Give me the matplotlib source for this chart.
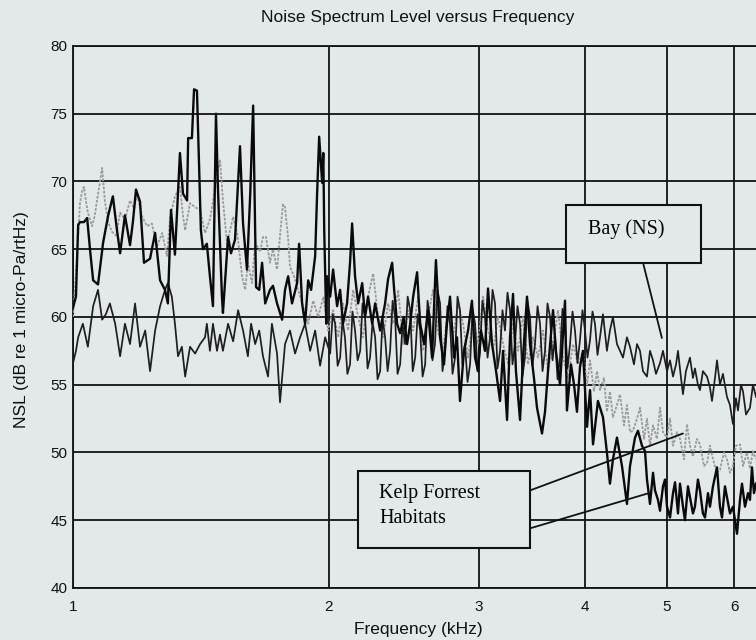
import matplotlib
matplotlib.use("Agg")
import matplotlib.pyplot as plt
from matplotlib.patches import Rectangle
from matplotlib.ticker import FixedLocator, FixedFormatter, NullLocator

BG = "#e3e9eb"

# Kelp forest habitat 1 (black, strong low-frequency peaks)
KELP1_FREQ = [
    1.000, 1.008, 1.014, 1.019, 1.030, 1.039, 1.047, 1.056, 1.070, 1.085,
    1.100, 1.114, 1.126, 1.136, 1.151, 1.167, 1.176, 1.186, 1.199, 1.212,
    1.232, 1.249, 1.266, 1.283, 1.293, 1.304, 1.318, 1.336, 1.347, 1.362,
    1.366, 1.380, 1.388, 1.399, 1.414, 1.422, 1.437, 1.449, 1.461, 1.473,
    1.481, 1.497, 1.501, 1.522, 1.534, 1.551, 1.572, 1.585, 1.602, 1.616,
    1.629, 1.638, 1.642, 1.656, 1.669, 1.683, 1.705, 1.719, 1.738, 1.762,
    1.776, 1.791, 1.810, 1.835, 1.845, 1.860, 1.875, 1.891, 1.906, 1.927,
    1.937, 1.948, 1.964, 1.970, 1.975, 1.986, 1.991, 2.007, 2.023, 2.045,
    2.062, 2.078, 2.101, 2.118, 2.130, 2.147, 2.165, 2.189, 2.206, 2.224,
    2.249, 2.267, 2.298, 2.329, 2.348, 2.374, 2.387, 2.406, 2.426, 2.450,
    2.472, 2.493, 2.513, 2.540, 2.561, 2.589, 2.616, 2.645, 2.673, 2.703,
    2.732, 2.754, 2.777, 2.807, 2.830, 2.853, 2.884, 2.916, 2.947, 2.972,
    2.996, 3.020, 3.053, 3.078, 3.112, 3.146, 3.180, 3.206, 3.241, 3.267,
    3.294, 3.320, 3.357, 3.384, 3.421, 3.449, 3.486, 3.515, 3.563, 3.592,
    3.631, 3.671, 3.700, 3.741, 3.792, 3.812, 3.854, 3.886, 3.917, 3.949,
    3.981, 4.025, 4.058, 4.091, 4.146, 4.203, 4.248, 4.283, 4.318, 4.365,
    4.425, 4.485, 4.522, 4.584, 4.621, 4.671, 4.710, 4.735, 4.774, 4.813,
    4.839, 4.878, 4.905, 4.945, 4.972, 4.999, 5.040, 5.081, 5.109, 5.150,
    5.178, 5.220, 5.248, 5.291, 5.320, 5.363, 5.392, 5.436, 5.466, 5.510,
    5.541, 5.586, 5.616, 5.662, 5.724, 5.770, 5.802, 5.849, 5.881, 5.929,
    5.977, 6.010, 6.043, 6.092, 6.125, 6.175, 6.226, 6.259, 6.293, 6.327,
    6.362,
]
KELP1_NSL = [
    60.7, 61.5, 66.8, 67.0, 67.0, 67.3, 65.0, 62.7, 62.4, 65.5,
    67.5, 68.9, 66.5, 64.7, 67.5, 65.3, 67.0, 69.4, 68.5, 64.0,
    64.3, 66.2, 62.7, 62.0, 61.0, 67.9, 64.6, 72.1, 69.1, 68.6,
    73.2, 73.2, 76.8, 76.7, 66.4, 65.0, 65.4, 63.0, 60.8, 75.0,
    69.4, 61.5, 60.3, 65.9, 64.7, 65.7, 72.6, 66.9, 63.5, 69.0,
    75.6, 66.4, 62.2, 62.0, 64.0, 61.0, 62.0, 62.3, 61.0, 59.8,
    62.0, 63.0, 61.0, 62.5, 65.4, 61.0, 59.5, 62.7, 62.0, 64.5,
    69.0, 73.3, 69.9, 72.1, 66.4, 59.5, 63.0, 61.5, 63.5, 60.8,
    62.0, 59.5, 61.0, 64.0, 66.9, 63.0, 61.0, 62.5, 60.0, 61.5,
    59.5, 61.0, 59.0, 61.0, 62.8, 64.0, 62.0, 59.5, 58.8, 60.0,
    58.0, 59.5, 61.5, 63.3, 59.5, 58.0, 60.5, 57.0, 64.2, 58.5,
    56.5, 59.5, 61.5, 57.0, 58.5, 53.8, 57.5, 59.0, 61.2, 57.0,
    56.0, 59.0, 57.5, 62.1, 58.0, 56.0, 53.8, 57.5, 52.4, 58.5,
    61.7, 56.0, 52.4, 57.0, 61.5, 58.0, 55.5, 53.3, 51.4, 53.0,
    57.0, 60.5, 57.5, 55.0, 61.2, 53.1, 56.5, 55.0, 53.0, 56.3,
    57.5, 51.9, 54.6, 50.6, 53.8, 52.6, 50.0, 47.7, 49.5, 51.1,
    49.0, 46.2, 49.0, 51.1, 51.6, 50.5, 50.1, 48.0, 46.2, 48.5,
    47.2, 46.5, 45.7, 47.5, 48.0, 46.0, 45.2, 47.0, 47.8, 45.5,
    47.7, 46.0, 45.0, 47.5, 46.7, 45.5, 46.0, 48.0, 47.2, 45.5,
    45.2, 47.0, 46.0, 47.5, 48.9, 46.0, 45.2, 47.5, 46.7, 45.5,
    46.0, 45.0, 44.0, 46.5, 47.7, 46.0, 47.0, 46.5, 48.9, 47.0,
    47.7,
]

# Kelp forest habitat 2 (grey)
KELP2_FREQ = [
    1.000, 1.005, 1.014, 1.019, 1.025, 1.030, 1.036, 1.041, 1.053, 1.061,
    1.067, 1.076, 1.082, 1.090, 1.100, 1.111, 1.124, 1.136, 1.151, 1.167,
    1.180, 1.189, 1.206, 1.222, 1.238, 1.255, 1.273, 1.290, 1.301, 1.318,
    1.336, 1.347, 1.355, 1.373, 1.392, 1.411, 1.430, 1.449, 1.461, 1.477,
    1.489, 1.501, 1.518, 1.530, 1.543, 1.560, 1.581, 1.594, 1.606, 1.624,
    1.638, 1.660, 1.673, 1.687, 1.705, 1.719, 1.738, 1.752, 1.766, 1.776,
    1.791, 1.800, 1.820, 1.840, 1.865, 1.891, 1.917, 1.943, 1.970, 1.996,
    2.023, 2.051, 2.078, 2.107, 2.136, 2.165, 2.194, 2.224, 2.255, 2.286,
    2.317, 2.348, 2.380, 2.413, 2.446, 2.479, 2.513, 2.547, 2.582, 2.616,
    2.652, 2.688, 2.725, 2.762, 2.800, 2.838, 2.877, 2.916, 2.955, 2.996,
    3.037, 3.078, 3.120, 3.163, 3.206, 3.250, 3.294, 3.339, 3.384, 3.430,
    3.477, 3.524, 3.573, 3.621, 3.671, 3.721, 3.772, 3.823, 3.875, 3.928,
    3.981, 4.025, 4.058, 4.102, 4.135, 4.169, 4.214, 4.248, 4.283, 4.318,
    4.365, 4.401, 4.449, 4.485, 4.522, 4.559, 4.609, 4.646, 4.697, 4.735,
    4.774, 4.813, 4.865, 4.905, 4.945, 4.999, 5.040, 5.081, 5.136, 5.178,
    5.234, 5.277, 5.320, 5.363, 5.421, 5.466, 5.525, 5.571, 5.616, 5.662,
    5.724, 5.770, 5.833, 5.881, 5.929, 5.977, 6.026, 6.092, 6.142, 6.209,
    6.259, 6.310, 6.362,
]
KELP2_NSL = [
    60.0, 62.0, 66.0, 68.4, 69.3, 69.6, 68.5, 67.7, 66.7, 67.5,
    68.6, 70.0, 71.0, 68.6, 67.0, 66.3, 66.0, 67.7, 67.2, 68.6,
    68.0, 69.1, 67.4, 66.7, 66.9, 65.2, 66.2, 64.5, 67.4, 68.9,
    69.6, 67.5, 66.4, 68.4, 68.1, 67.9, 66.2, 67.2, 68.5, 70.4,
    71.6, 68.6, 65.4, 66.4, 67.4, 66.2, 63.0, 62.0, 64.0, 62.5,
    65.5, 64.8, 65.9, 65.9, 64.0, 65.0, 63.5, 66.0, 68.3, 68.1,
    65.8, 63.7, 63.0, 62.0, 60.8, 59.5, 61.2, 60.0, 61.5, 59.0,
    60.5, 58.5, 61.0, 59.0, 62.0, 60.0, 58.5, 61.5, 63.2, 60.0,
    58.5, 61.0, 59.5, 62.0, 58.0, 60.5, 59.0, 61.5, 57.5, 60.0,
    62.0, 59.0, 57.5, 60.5, 58.5, 61.0, 59.5, 57.0, 60.0, 58.0,
    61.5, 59.0, 57.5, 60.0, 58.0, 56.5, 59.5, 57.5, 60.0, 56.5,
    58.5, 57.0, 59.0, 56.0, 58.0, 60.5, 57.0, 55.5, 58.0, 56.5,
    57.5, 55.0, 56.8, 54.5, 56.0, 54.6, 55.5, 53.0, 54.5, 52.6,
    53.5, 54.3, 52.0, 53.5, 51.5, 51.6, 52.5, 53.3, 51.0, 52.5,
    50.5, 52.0, 51.0, 53.3, 51.5, 51.1, 52.5, 50.5, 51.5, 51.0,
    49.5, 52.1, 50.5, 49.7, 51.0, 50.6, 49.0, 49.2, 50.5, 49.5,
    48.5, 48.7, 50.0, 49.5, 48.5, 49.0, 50.5, 50.6, 49.0, 50.0,
    48.8, 50.1, 49.5,
]

# Bay (NS)
BAY_FREQ = [
    1.000, 1.008, 1.014, 1.027, 1.041, 1.056, 1.070, 1.082, 1.093, 1.105,
    1.121, 1.136, 1.151, 1.167, 1.183, 1.199, 1.216, 1.232, 1.249, 1.266,
    1.283, 1.293, 1.307, 1.318, 1.329, 1.343, 1.355, 1.373, 1.392, 1.411,
    1.430, 1.437, 1.449, 1.461, 1.477, 1.489, 1.501, 1.522, 1.543, 1.564,
    1.585, 1.606, 1.620, 1.638, 1.656, 1.673, 1.696, 1.714, 1.738, 1.752,
    1.776, 1.800, 1.825, 1.850, 1.875, 1.901, 1.927, 1.953, 1.980,
    2.007, 2.021, 2.034, 2.048, 2.062, 2.075, 2.089, 2.103, 2.118, 2.132,
    2.147, 2.162, 2.177, 2.191, 2.206, 2.221, 2.236, 2.251, 2.267, 2.282,
    2.298, 2.313, 2.329, 2.345, 2.361, 2.377, 2.393, 2.409, 2.426, 2.442,
    2.459, 2.476, 2.493, 2.510, 2.527, 2.544, 2.561, 2.578, 2.596, 2.613,
    2.630, 2.648, 2.666, 2.684, 2.703, 2.721, 2.739, 2.758, 2.777, 2.796,
    2.815, 2.834, 2.853, 2.872, 2.892, 2.912, 2.932, 2.952, 2.972, 2.992,
    3.012, 3.032, 3.053, 3.074, 3.095, 3.116, 3.137, 3.158, 3.180, 3.201,
    3.223, 3.245, 3.267, 3.289, 3.311, 3.334, 3.357, 3.379, 3.402, 3.425,
    3.449, 3.472, 3.496, 3.520, 3.544, 3.568, 3.592, 3.616, 3.641, 3.666,
    3.691, 3.716, 3.741, 3.766, 3.792, 3.818, 3.844, 3.870, 3.896, 3.922,
    3.949, 3.976, 4.003, 4.030, 4.058, 4.085, 4.113, 4.141, 4.169,
    4.203, 4.248, 4.283, 4.318, 4.365, 4.401,
    4.437, 4.485, 4.522, 4.571, 4.609, 4.646, 4.684, 4.735, 4.774, 4.813,
    4.852, 4.905, 4.945, 4.999, 5.040, 5.081, 5.123, 5.150, 5.192, 5.220,
    5.262, 5.320, 5.363, 5.392, 5.436, 5.466, 5.510, 5.571, 5.616, 5.647,
    5.693, 5.724, 5.770, 5.817, 5.881, 5.929, 5.977, 6.026, 6.059, 6.109,
    6.142, 6.192, 6.259, 6.310, 6.362,
]
BAY_NSL = [
    56.6, 57.5, 58.5, 59.5, 57.8, 60.8, 62.0, 59.8, 60.2, 61.0,
    59.5, 57.1, 59.5, 58.0, 61.0, 57.8, 59.0, 56.0, 59.0, 60.8,
    62.0, 62.5, 61.5, 59.5, 57.1, 57.8, 55.6, 57.8, 57.3, 58.0,
    58.5, 59.5, 57.5, 59.5, 57.5, 58.7, 57.5, 59.5, 58.2, 60.5,
    59.0, 57.1, 59.5, 58.0, 59.0, 57.1, 55.6, 59.5, 57.3, 53.7,
    58.0, 59.0, 57.3, 58.5, 59.5, 57.5, 59.0, 56.4, 58.5,
    57.3, 60.2, 59.5, 56.4, 57.0, 59.8, 58.5, 55.8, 56.5, 60.4,
    59.0, 56.8, 57.5, 61.0, 60.0, 56.2, 57.0, 59.6, 58.5, 55.4,
    56.0, 59.9, 58.5, 56.0, 57.5, 61.2, 60.0, 55.8, 56.5, 59.5,
    58.0, 61.5, 60.5, 56.0, 57.0, 60.2, 59.0, 55.6, 56.5, 61.2,
    60.0, 56.8, 58.0, 62.0, 61.0, 56.0, 57.5, 60.8, 59.5, 55.8,
    57.0, 61.5, 60.5, 56.5, 58.0, 55.2, 56.5, 60.6, 59.5, 56.0,
    57.5, 61.2, 60.0, 57.0, 58.5, 62.0, 61.0, 56.2, 57.5, 60.5,
    59.0, 61.8, 60.5, 56.5, 58.0, 60.8, 59.5, 55.6, 57.0, 61.2,
    60.0, 56.4, 58.0, 60.8, 59.5, 56.0, 57.5, 61.0, 60.0, 56.8,
    58.5, 55.4, 57.0, 60.6, 59.5, 56.2, 58.0, 60.4, 59.0, 56.6,
    58.3, 60.5, 59.0, 57.0, 58.3, 60.4, 59.5, 57.2, 58.5,
    60.2, 57.5, 59.0, 60.0, 58.0, 57.5,
    57.0, 58.5, 57.8, 56.5, 58.0, 57.5, 56.0, 55.6, 57.5, 56.8,
    55.8, 56.6, 57.5, 56.0, 56.8, 55.6, 56.5, 57.5, 55.5, 54.3,
    56.0, 57.0, 55.5, 56.2, 55.0, 54.6, 56.0, 55.6, 54.8, 53.8,
    55.5, 56.8, 55.0, 55.8, 54.1, 53.5, 52.1, 54.0, 53.1, 55.0,
    54.5, 52.8, 53.3, 55.0, 54.1,
]

X_TICKS = [1, 2, 3, 4, 5, 6]
X_TICK_LABELS = ["1", "2", "3", "4", "5", "6"]
Y_TICKS = [40, 45, 50, 55, 60, 65, 70, 75, 80]

plt.rcParams["font.family"] = ["Liberation Sans", "DejaVu Sans"]

fig = plt.figure(figsize=(7.56, 6.4), dpi=100, facecolor=BG)
ax = fig.add_axes([0.0966, 0.0813, 0.9034, 0.8469], facecolor=BG)

ax.plot(KELP2_FREQ, KELP2_NSL, color="#9a9a9a", lw=1.3, ls=(0, (1.5, 0.8)), zorder=3)
ax.plot(BAY_FREQ, BAY_NSL, color="#1e1e1e", lw=1.25, zorder=4)
ax.plot(KELP1_FREQ, KELP1_NSL, color="#0a0a0a", lw=1.7, zorder=5)

ax.set_xscale("log")
ax.set_xlim(1, 6.362)
ax.set_ylim(40, 80)
ax.xaxis.set_major_locator(FixedLocator(X_TICKS))
ax.xaxis.set_major_formatter(FixedFormatter(X_TICK_LABELS))
ax.xaxis.set_minor_locator(NullLocator())
ax.set_yticks(Y_TICKS)
ax.tick_params(length=0, labelsize=11, colors="#111111")
ax.tick_params(axis="x", pad=9)
ax.tick_params(axis="y", pad=4)
ax.grid(True, color="#111111", lw=1.3)
ax.set_axisbelow(True)
for side in ("left", "bottom", "top"):
    ax.spines[side].set_color("#111111")
    ax.spines[side].set_linewidth(1.3)
ax.spines["right"].set_visible(False)

fig.text(0.553, 0.973, "Noise Spectrum Level versus Frequency", ha="center", va="center",
         fontsize=12.5, color="#111111")
fig.text(0.553, 0.016, "Frequency (kHz)", ha="center", va="center", fontsize=12.5,
         color="#111111")
fig.text(0.029, 0.5, "NSL (dB re 1 micro-Pa/rtHz)", ha="center", va="center",
         rotation=90, fontsize=12.5, color="#111111")

# Annotation boxes
serif = ["Liberation Serif", "DejaVu Serif"]
ax.add_patch(Rectangle((3.80, 63.99), 5.48 - 3.80, 68.27 - 63.99, facecolor=BG,
                       edgecolor="#111111", lw=1.5, zorder=7))
ax.text(4.035, 66.45, "Bay (NS)", ha="left", va="center", fontsize=14.5,
        family=serif, zorder=8)
ax.annotate("", xy=(4.93, 58.45), xytext=(4.685, 63.99),
            arrowprops=dict(arrowstyle="-", color="#111111", lw=1.3,
                            shrinkA=0, shrinkB=0), zorder=8)

ax.add_patch(Rectangle((2.164, 42.95), 3.449 - 2.164, 48.6 - 42.95, facecolor=BG,
                       edgecolor="#111111", lw=1.5, zorder=7))
ax.text(2.291, 47.0, "Kelp Forrest", ha="left", va="center", fontsize=14.5,
        family=serif, zorder=8)
ax.text(2.291, 45.1, "Habitats", ha="left", va="center", fontsize=14.5,
        family=serif, zorder=8)
ax.annotate("", xy=(5.22, 51.4), xytext=(3.449, 47.2),
            arrowprops=dict(arrowstyle="-", color="#111111", lw=1.3,
                            shrinkA=0, shrinkB=0), zorder=8)
ax.annotate("", xy=(4.76, 47.0), xytext=(3.449, 44.4),
            arrowprops=dict(arrowstyle="-", color="#111111", lw=1.3,
                            shrinkA=0, shrinkB=0), zorder=8)

fig.savefig("out.png", dpi=100, facecolor=BG)
